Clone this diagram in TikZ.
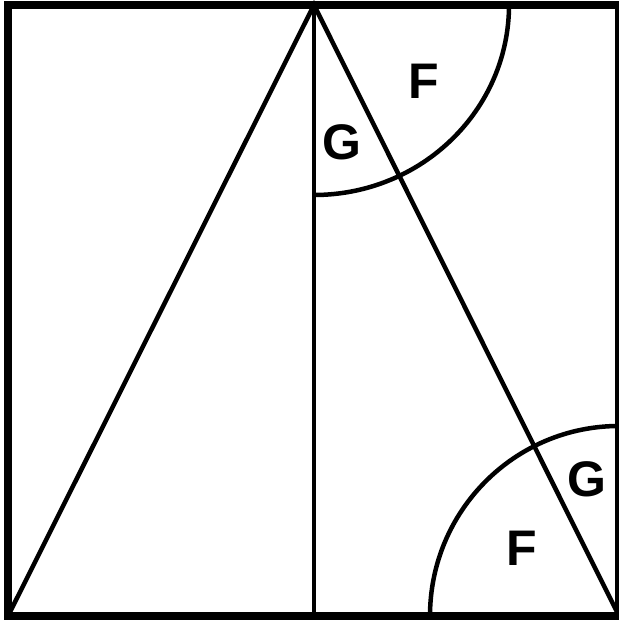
\documentclass[tikz,border=0pt]{standalone}
\usepackage{fontspec}
\setmainfont{Liberation Sans}
\begin{document}
\begin{tikzpicture}[x=1pt,y=1pt,
  frame/.style={line width=8pt},
  inner/.style={line width=4.5pt},
  lbl/.style={font=\bfseries\fontsize{50}{60}\selectfont, inner sep=0pt}]
\useasboundingbox (0,0) rectangle (618,620);
\fill[white] (0,0) rectangle (618,620);
\coordinate (TL) at (8,615);
\coordinate (TR) at (619,615);
\coordinate (BL) at (8,4);
\coordinate (BR) at (619,4);
\coordinate (A) at (314,615);
\coordinate (M) at (314,4);
% triangle and vertical
\draw[inner, line join=miter] (BL) -- (A) -- (BR);
\draw[inner] (A) -- (M);
% arcs
\draw[inner] ([xshift=195pt]A) arc[start angle=0, end angle=-90, x radius=195, y radius=190];
\draw[inner] ([xshift=-189pt]BR) arc[start angle=180, end angle=90, x radius=189, y radius=190];
% frame
\draw[frame] (BL) rectangle (TR);
% labels
\node[lbl] (F1) at (424,539) {F};
\node[lbl] (G1) at (342,478) {G};
\node[lbl] (G2) at (587,141) {G};
\node[lbl] (F2) at (522,72) {F};
\end{tikzpicture}
\end{document}
